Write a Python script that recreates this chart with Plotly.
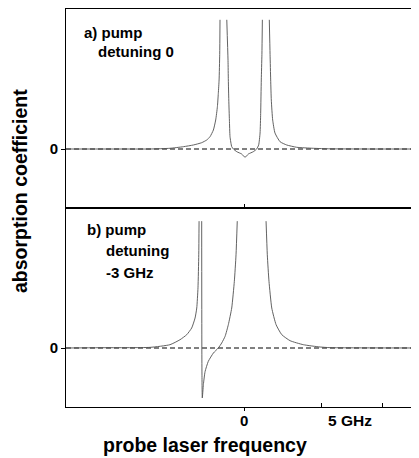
import plotly.graph_objects as go

# ---- data (x in GHz, y in arbitrary absorption units) ----
# panel a) pump detuning 0 ; None separates the branches that leave the top of the panel
freq_a = [-11.56, -8.05, -6.10, -4.81, -3.94, -3.29, -2.75, -2.42, -2.21, -1.99, -1.84, -1.73, -1.67, -1.62, -1.58, -1.56,
          None,
          -1.12, -1.04, -1.02, -0.99, -0.95, -0.91, -0.80, -0.69, -0.47, -0.15, 0.065, 0.28, 0.60, 0.82, 0.95, 1.04, 1.08, 1.12, 1.16, 1.19,
          None,
          1.64, 1.69, 1.73, 1.77, 1.86, 2.01, 2.34, 2.77, 3.42, 4.50, 5.58, 8.00, 11.40]
absorb_a = [0.0, 0.0, 0.0, 0.012, 0.039, 0.068, 0.107, 0.153, 0.208, 0.322, 0.492, 0.717, 0.943, 1.17, 1.60, 2.19,
            None,
            2.19, 1.50, 1.17, 0.83, 0.49, 0.208, 0.039, 0.0, -0.046, -0.085, -0.141, -0.085, -0.046, 0.0, 0.068, 0.27, 0.60, 1.17, 1.60, 2.19,
            None,
            2.19, 1.60, 1.17, 0.83, 0.49, 0.27, 0.123, 0.068, 0.029, 0.012, 0.003, 0.0, 0.0]

# panel b) pump detuning -3 GHz
freq_b = [-11.56, -9.35, -6.10, -4.81, -4.16, -3.72, -3.40, -3.18, -3.07, -2.99, -2.94, -2.92,
          None,
          -2.75, -2.74, -2.73, -2.71, -2.64, -2.53, -2.32, -1.99, -1.67, -1.45, -1.23, -1.02, -0.80, -0.63, -0.52, -0.44,
          None,
          1.43, 1.51, 1.62, 1.80, 2.08, 2.45, 2.99, 3.85, 4.94, 5.58, 7.99, 11.40]
absorb_b = [0.0, 0.005, 0.011, 0.056, 0.14, 0.226, 0.339, 0.508, 0.678, 1.02, 1.58, 2.15,
            None,
            2.15, 0.0, -0.50, -0.847, -0.62, -0.40, -0.226, -0.085, 0.0, 0.085, 0.198, 0.395, 0.678, 1.13, 1.58, 2.15,
            None,
            2.15, 1.58, 1.13, 0.678, 0.395, 0.226, 0.124, 0.056, 0.017, 0.006, 0.002, 0.0]

x_tick_major = [0]
x_tick_major_text = ["0"]
x_tick_minor = [5, 9]
x_unit_label = "5 GHz"
x_unit_pos = 6.88
y_tick_vals = [0]
y_tick_text = ["0"]

panel_labels_a = ["a) pump", "detuning 0"]
panel_labels_b = ["b) pump", "detuning", "-3 GHz"]

X_RANGE = [-11.56, 11.36]
Y_RANGE = [-1.0, 2.373]

FONT = "Liberation Sans, Arial, Helvetica, sans-serif"
LINE = "#505050"

fig = go.Figure()
fig.add_trace(go.Scatter(x=freq_a, y=absorb_a, mode="lines", connectgaps=False,
                         line=dict(color=LINE, width=0.9, shape="spline", smoothing=0.5),
                         xaxis="x", yaxis="y", showlegend=False))
fig.add_trace(go.Scatter(x=freq_b, y=absorb_b, mode="lines", connectgaps=False,
                         line=dict(color=LINE, width=0.9, shape="spline", smoothing=0.5),
                         xaxis="x2", yaxis="y2", showlegend=False))

for yr, xr in (("y", "x"), ("y2", "x2")):
    fig.add_shape(type="line", xref=f"{xr} domain", yref=yr, x0=0, x1=1, y0=0, y1=0,
                  line=dict(color="black", width=1, dash="5px,3px"), layer="below")

axis_common = dict(showgrid=False, zeroline=False, showline=True, linecolor="black", linewidth=1,
                   range=X_RANGE, fixedrange=True)
# the page body adds an 8px margin, so the figure is laid out 8px up/left of the reference positions
fig.update_layout(
    width=411, height=450,
    margin=dict(l=58, r=0, t=1, b=51),
    paper_bgcolor="white", plot_bgcolor="white",
    font=dict(family=FONT, color="black"),
    xaxis=dict(**axis_common, domain=[0, 1], anchor="y", mirror=True,
               tickvals=x_tick_major, ticktext=["" for _ in x_tick_major], ticks="inside", ticklen=4,
               tickcolor="black"),
    yaxis=dict(showgrid=False, zeroline=False, showline=True, linecolor="black", linewidth=1,
               domain=[0.5, 1], anchor="x", range=Y_RANGE, tickvals=y_tick_vals, ticktext=y_tick_text,
               ticks="outside", ticklen=4, tickcolor="black",
               tickfont=dict(size=15, family=FONT, weight="bold", color="black")),
    xaxis2=dict(**axis_common, domain=[0, 1], anchor="y2", mirror=True,
                tickvals=x_tick_major, ticktext=["" for _ in x_tick_major], ticks="outside", ticklen=3,
                tickcolor="black",
                minor=dict(tickvals=x_tick_minor, ticks="inside", ticklen=4, tickcolor="black")),
    yaxis2=dict(showgrid=False, zeroline=False, showline=True, linecolor="black", linewidth=1,
                domain=[0, 0.5], anchor="x2", range=Y_RANGE, tickvals=y_tick_vals, ticktext=y_tick_text,
                ticks="outside", ticklen=4, tickcolor="black",
                tickfont=dict(size=15, family=FONT, weight="bold", color="black")),
)

def ann(text, x, y, size=15, xanchor="left", yanchor="middle", xref="paper", **kw):
    fig.add_annotation(text=text, x=x, y=y, xref=xref, yref="paper", showarrow=False,
                       xanchor=xanchor, yanchor=yanchor,
                       font=dict(size=size, family=FONT, weight="bold", color="black"), **kw)

ann(panel_labels_a[0], 0.045, 0.942)
ann(panel_labels_a[1], 0.085, 0.894)
ann(panel_labels_b[0], 0.054, 0.447)
ann(panel_labels_b[1], 0.108, 0.394)
ann(panel_labels_b[2], 0.108, 0.337)

# x tick labels
ann(x_tick_major_text[0], x_tick_major[0], -0.0327, xanchor="center", xref="x2")
ann(x_unit_label, x_unit_pos, -0.0327, size=15.5, xanchor="center", xref="x2")

ann("probe laser frequency", 0.394, -0.1281, size=19.5, xanchor="center", yanchor="bottom")
ann("absorption coefficient", -0.130, 0.543, size=19.5, xanchor="center", textangle=-90)

fig.write_html("out.html")
